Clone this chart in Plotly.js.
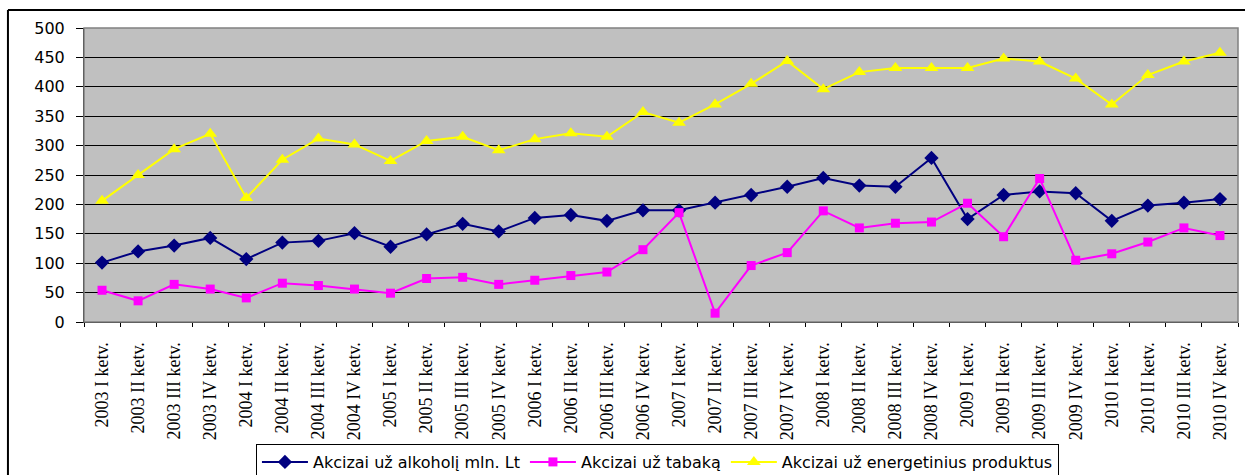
<!DOCTYPE html>
<html>
<head>
<meta charset="utf-8">
<script src="https://cdn.plot.ly/plotly-3.0.1.min.js"></script>
<style>html,body{margin:0;padding:0;background:#fff;}#chart{width:1245px;height:475px;}</style>
</head>
<body>
<div id="chart"></div>
<script>
const categories = [
  "2003 I ketv.","2003 II ketv.","2003 III ketv.","2003 IV ketv.",
  "2004 I ketv.","2004 II ketv.","2004 III ketv.","2004 IV ketv.",
  "2005 I ketv.","2005 II ketv.","2005 III ketv.","2005 IV ketv.",
  "2006 I ketv.","2006 II ketv.","2006 III ketv.","2006 IV ketv.",
  "2007 I ketv.","2007 II ketv.","2007 III ketv.","2007 IV ketv.",
  "2008 I ketv.","2008 II ketv.","2008 III ketv.","2008 IV ketv.",
  "2009 I ketv.","2009 II ketv.","2009 III ketv.","2009 IV ketv.",
  "2010 I ketv.","2010 II ketv.","2010 III ketv.","2010 IV ketv."
];
const alcohol = [101,120,130,143,107,135,138,151,128,149,167,154,177,182,172,190,190,203,216,230,245,232,230,279,175,216,222,219,172,198,203,209];
const tobacco = [54,36,64,56,41,66,62,56,49,74,76,64,71,79,85,123,186,15,96,118,189,160,168,170,202,145,244,105,116,136,160,147];
const energy = [206,250,294,320,211,276,312,302,274,308,315,292,311,321,315,357,339,370,405,444,396,425,432,432,432,448,443,414,370,420,443,458];
const seriesNames = ["Akcizai už alkoholį mln. Lt","Akcizai už tabaką","Akcizai už energetinius produktus"];

const traces = [
  {x: categories, y: alcohol, name: seriesNames[0], type: "scatter", mode: "lines+markers",
   line: {color: "#000080", width: 2}, marker: {symbol: "diamond", size: 11, color: "#000080"}},
  {x: categories, y: tobacco, name: seriesNames[1], type: "scatter", mode: "lines+markers",
   line: {color: "#FF00FF", width: 2}, marker: {symbol: "square", size: 9, color: "#FF00FF"}},
  {x: categories, y: energy, name: seriesNames[2], type: "scatter", mode: "lines+markers",
   line: {color: "#FFFF00", width: 2}, marker: {symbol: "triangle-up", size: 12, color: "#FFFF00"}}
];

const layout = {
  width: 1245, height: 475,
  margin: {l: 84, r: 7, t: 28, b: 153, pad: 0, autoexpand: false},
  paper_bgcolor: "#ffffff",
  plot_bgcolor: "#C0C0C0",
  showlegend: true,
  xaxis: {
    type: "category", tickson: "boundaries", ticks: "outside", ticklen: 4, tickcolor: "#000",
    showgrid: false, showline: true, linecolor: "#000", linewidth: 1, zeroline: false,
    tickangle: -90, ticklabelstandoff: 12,
    tickfont: {family: "Liberation Serif, Times New Roman, serif", size: 18, color: "#000"},
    range: [-0.5, 31.5], fixedrange: true, automargin: false
  },
  yaxis: {
    range: [0, 500], dtick: 50, tick0: 0, ticks: "outside", ticklen: 7, tickcolor: "#000",
    showgrid: true, gridcolor: "#000", gridwidth: 1, showline: true, linecolor: "#000", linewidth: 1,
    zeroline: false, ticklabelstandoff: 8,
    tickfont: {family: "DejaVu Sans, sans-serif", size: 16, color: "#000"},
    fixedrange: true, automargin: false
  },
  legend: {
    orientation: "h", x: 0.149, xanchor: "left", y: -0.415, yanchor: "top",
    bgcolor: "#fff", bordercolor: "#000", borderwidth: 1,
    font: {family: "DejaVu Sans, sans-serif", size: 16, color: "#000"},
    itemwidth: 46
  },
  shapes: [
    {type: "rect", xref: "paper", yref: "paper", x0: 0, x1: 1, y0: 0, y1: 1,
     line: {color: "#808080", width: 1.5}, fillcolor: "rgba(0,0,0,0)", layer: "above"},
    {type: "line", xref: "paper", yref: "paper", x0: -0.0659, x1: 1.2, y0: 1.0612, y1: 1.0612,
     line: {color: "#000", width: 2}},
    {type: "line", xref: "paper", yref: "paper", x0: -0.0659, x1: -0.0659, y0: 1.0612, y1: -0.7,
     line: {color: "#000", width: 2}}
  ]
};

Plotly.newPlot("chart", traces, layout, {displayModeBar: false, staticPlot: true});
</script>
</body>
</html>
